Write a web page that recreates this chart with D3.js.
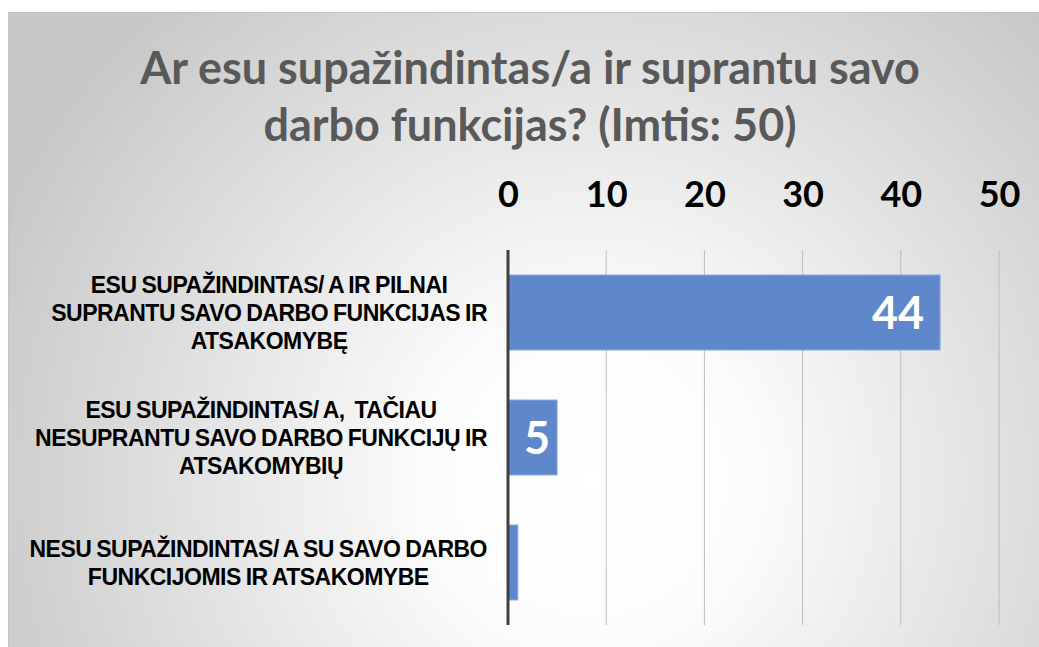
<!DOCTYPE html>
<html>
<head>
<meta charset="utf-8">
<script src="https://cdn.jsdelivr.net/npm/d3@7"></script>
<style>
  html, body { margin: 0; padding: 0; background: #fff; }
  svg { display: block; }
</style>
</head>
<body>
<svg id="chart" width="1039" height="647"></svg>
<script>
var titleLines = ["Ar esu supažindintas/a ir suprantu savo", "darbo funkcijas? (Imtis: 50)"];
var categories = [
  "ESU SUPAŽINDINTAS/ A IR PILNAI\nSUPRANTU SAVO DARBO FUNKCIJAS IR\nATSAKOMYBĘ",
  "ESU SUPAŽINDINTAS/ A,  TAČIAU\nNESUPRANTU SAVO DARBO FUNKCIJŲ IR\nATSAKOMYBIŲ",
  "NESU SUPAŽINDINTAS/ A SU SAVO DARBO\nFUNKCIJOMIS IR ATSAKOMYBE"
];
var values = [44, 5, 1];
var tickValues = [0, 10, 20, 30, 40, 50];

var svg, x, y;

var setup = function() {
  svg = d3.select("#chart");
  var width = +svg.attr("width"), height = +svg.attr("height");

  // background with radial gradient
  var defs = svg.append("defs");
  var grad = defs.append("radialGradient")
    .attr("id", "bg")
    .attr("gradientUnits", "userSpaceOnUse")
    .attr("cx", 590).attr("cy", 480).attr("r", 640);
  grad.append("stop").attr("offset", "0").attr("stop-color", "#ffffff");
  grad.append("stop").attr("offset", "0.25").attr("stop-color", "#fcfcfc");
  grad.append("stop").attr("offset", "1").attr("stop-color", "#c8c8c8");

  svg.append("rect")
    .attr("x", 8.5).attr("y", 12.5)
    .attr("width", width + 10).attr("height", height + 10)
    .attr("fill", "url(#bg)")
    .attr("stroke", "#c4c4c4");

  // title
  var title = svg.append("g");
  title.selectAll("text").data(titleLines).enter().append("text")
    .attr("x", 530)
    .attr("y", function(d, i) { return 84 + i * 57; })
    .attr("text-anchor", "middle")
    .attr("font-family", "Lato, 'Open Sans', sans-serif")
    .attr("font-weight", "bold")
    .attr("font-size", 40)
    .attr("fill", "#595959")
    .text(function(d) { return d; });
  // fit to the reference width
  var t0 = title.select("text").node();
  var k = 780 / t0.getComputedTextLength();
  title.selectAll("text").attr("font-size", 40 * k);

  x = d3.scaleLinear().domain([0, 50]).range([508, 999]);
  y = d3.scaleBand().domain(categories).range([250, 625]).paddingInner(0.4).paddingOuter(0.2);

  // gridlines
  svg.append("g").selectAll("line").data(tickValues.slice(1)).enter().append("line")
    .attr("x1", function(d) { return x(d); })
    .attr("x2", function(d) { return x(d); })
    .attr("y1", 250).attr("y2", 625)
    .attr("stroke", "#bdbdbd").attr("stroke-width", 1);

  // top axis labels
  var axis = svg.append("g")
    .attr("transform", "translate(0,207)")
    .call(d3.axisTop(x).tickValues(tickValues).tickSize(0).tickPadding(0));
  axis.select(".domain").remove();
  axis.selectAll("text")
    .attr("font-family", "Lato, 'Open Sans', sans-serif")
    .attr("font-weight", "bold")
    .attr("font-size", 36)
    .attr("fill", "#000");

  // bars
  svg.append("g").selectAll("rect").data(values).enter().append("rect")
    .attr("x", x(0))
    .attr("y", function(d, i) { return y(categories[i]); })
    .attr("width", function(d) { return x(d) - x(0); })
    .attr("height", y.bandwidth())
    .attr("fill", "#5f87cc")
    .attr("stroke", "#8eaadd")
    .attr("stroke-width", 1);

  // value labels
  svg.append("g").selectAll("text").data(values).enter().append("text")
    .attr("x", function(d) { return x(d) - ((x(d) - x(0)) > 100 ? 16 : 7); })
    .attr("y", function(d, i) { return y(categories[i]) + y.bandwidth() / 2; })
    .attr("dy", "0.36em")
    .attr("text-anchor", "end")
    .attr("font-family", "Lato, 'Open Sans', sans-serif")
    .attr("font-weight", "bold")
    .attr("font-size", 45)
    .attr("fill", "#fff")
    .text(function(d) { return d; });

  // category labels
  var cats = svg.append("g").selectAll("g").data(categories).enter().append("g");
  cats.each(function(d) {
    var g = d3.select(this);
    var lines = d.split("\n");
    var cy = y(d) + y.bandwidth() / 2;
    var lh = 28;
    var txt = g.selectAll("text").data(lines).enter().append("text")
      .attr("y", function(l, i) { return cy + (i - (lines.length - 1) / 2) * lh; })
      .attr("dy", "0.36em")
      .attr("text-anchor", "middle")
      .attr("font-family", "'Liberation Sans', Arial, sans-serif")
      .attr("font-weight", "bold")
      .attr("font-size", 23)
      .attr("letter-spacing", -0.5)
      .attr("word-spacing", -1)
      .style("white-space", "pre")
      .attr("fill", "#000")
      .text(function(l) { return l; });
    var w = d3.max(txt.nodes(), function(n) { return n.getComputedTextLength(); });
    txt.attr("x", 487 - w / 2);
  });

  // vertical axis line
  svg.append("line")
    .attr("x1", x(0)).attr("x2", x(0))
    .attr("y1", 250).attr("y2", 625)
    .attr("stroke", "#404040").attr("stroke-width", 3);
};

window.onload = setup;
</script>
</body>
</html>
